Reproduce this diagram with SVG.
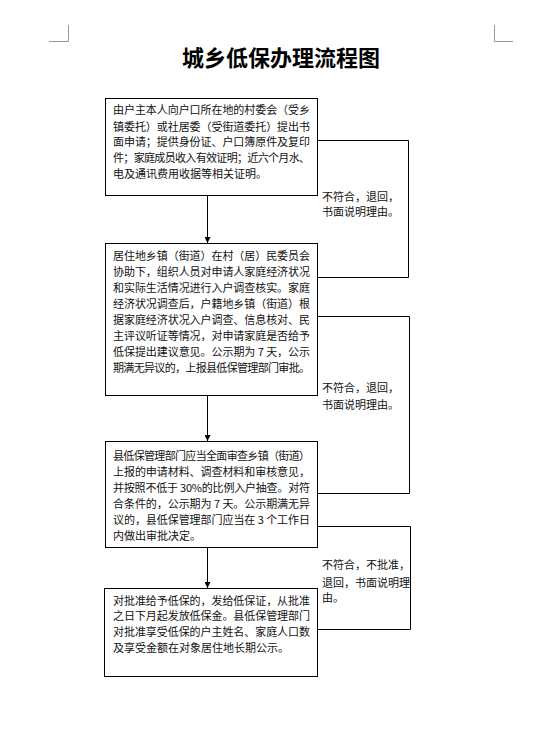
<svg xmlns="http://www.w3.org/2000/svg" width="534" height="739" viewBox="0 0 534 739">
<style>
.box{fill:#fff;stroke:#000;stroke-width:1}
.t{font-family:"Noto Sans CJK SC","Noto Sans CJK JP",sans-serif;font-size:11px;fill:#111}
.title{font-family:"Noto Sans CJK SC",sans-serif;font-size:22px;font-weight:bold;fill:#000}
.ln{fill:none;stroke:#000;stroke-width:1}
.mark{fill:none;stroke:#999;stroke-width:1}
</style>
<defs>
<marker id="ah" viewBox="0 0 10 10" refX="10" refY="5" markerWidth="6" markerHeight="6" orient="auto">
<path d="M0,0 L10,5 L0,10 z" fill="#000"/>
</marker>
</defs>
<rect width="534" height="739" fill="#fff"/>
<g id="marks">
<path class="mark" d="M68.5,25 V41.5 H49"/>
<path class="mark" d="M494.5,25 V41.5 H513"/>
</g>
<text class="title" x="281" y="66" text-anchor="middle">城乡低保办理流程图</text>
<g id="connectors">
<line class="ln" x1="207.5" y1="195" x2="207.5" y2="243" marker-end="url(#ah)"/>
<line class="ln" x1="207.5" y1="395" x2="207.5" y2="441" marker-end="url(#ah)"/>
<line class="ln" x1="207.5" y1="548" x2="207.5" y2="588" marker-end="url(#ah)"/>
<path class="ln" d="M317,140.5 H408.5 V277.5 H317"/>
<path class="ln" d="M317,316.5 H409.5 V493.5 H317"/>
<path class="ln" d="M317,526.5 H410.5 V629.5 H317"/>
</g>
<g id="n1">
<rect class="box" x="105.5" y="98.5" width="212" height="97"/>
<text class="t"><tspan x="113" y="114" textLength="197">由户主本人向户口所在地的村委会（受乡</tspan><tspan x="113" y="131" textLength="197">镇委托）或社居委（受街道委托）提出书</tspan><tspan x="113" y="146" textLength="197">面申请；提供身份证、户口簿原件及复印</tspan><tspan x="113" y="162" textLength="197">件；家庭成员收入有效证明；近六个月水、</tspan><tspan x="113" y="178">电及通讯费用收据等相关证明。</tspan></text>
</g>
<g id="n2">
<rect class="box" x="105.5" y="243.5" width="212" height="152"/>
<text class="t"><tspan x="113" y="260" textLength="197">居住地乡镇（街道）在村（居）民委员会</tspan><tspan x="113" y="276" textLength="197">协助下，组织人员对申请人家庭经济状况</tspan><tspan x="113" y="292" textLength="197">和实际生活情况进行入户调查核实。家庭</tspan><tspan x="113" y="308" textLength="197">经济状况调查后，户籍地乡镇（街道）根</tspan><tspan x="113" y="324" textLength="197">据家庭经济状况入户调查、信息核对、民</tspan><tspan x="113" y="340" textLength="197">主评议听证等情况，对申请家庭是否给予</tspan><tspan x="113" y="356" textLength="197">低保提出建议意见。公示期为 7 天，公示</tspan><tspan x="113" y="372" textLength="197">期满无异议的，上报县低保管理部门审批。</tspan></text>
</g>
<g id="n3">
<rect class="box" x="105.5" y="441.5" width="212" height="106"/>
<text class="t"><tspan x="113" y="460" textLength="197">县低保管理部门应当全面审查乡镇（街道）</tspan><tspan x="113" y="476" textLength="197">上报的申请材料、调查材料和审核意见，</tspan><tspan x="113" y="492" textLength="197">并按照不低于 30%的比例入户抽查。对符</tspan><tspan x="113" y="508" textLength="197">合条件的，公示期为 7 天。公示期满无异</tspan><tspan x="113" y="524" textLength="197">议的，县低保管理部门应当在 3 个工作日</tspan><tspan x="113" y="540">内做出审批决定。</tspan></text>
</g>
<g id="n4">
<rect class="box" x="104.5" y="588.5" width="213" height="88"/>
<text class="t"><tspan x="113" y="605" textLength="197">对批准给予低保的，发给低保证，从批准</tspan><tspan x="113" y="620" textLength="197">之日下月起发放低保金。县低保管理部门</tspan><tspan x="113" y="636" textLength="197">对批准享受低保的户主姓名、家庭人口数</tspan><tspan x="113" y="652">及享受金额在对象居住地长期公示。</tspan></text>
</g>
<g id="labels">
<text class="t"><tspan x="322" y="201">不符合，退回，</tspan><tspan x="322" y="216">书面说明理由。</tspan></text>
<text class="t"><tspan x="322" y="392">不符合，退回，</tspan><tspan x="322" y="409">书面说明理由。</tspan></text>
<text class="t"><tspan x="322" y="569">不符合，不批准，</tspan><tspan x="322" y="587">退回，书面说明理</tspan><tspan x="322" y="602">由。</tspan></text>
</g>
</svg>
